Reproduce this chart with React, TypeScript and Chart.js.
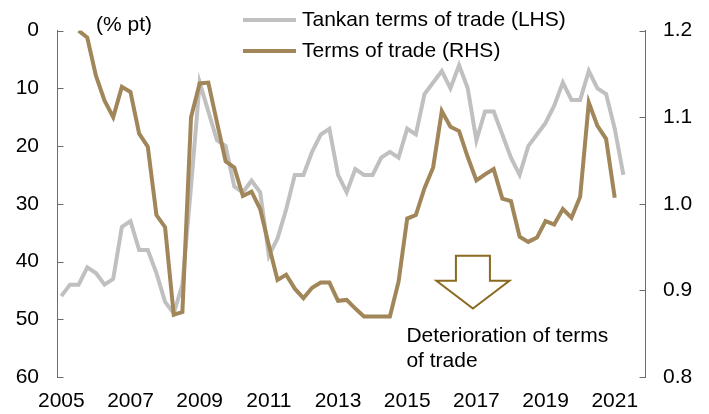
import React, { useEffect, useRef } from 'react';
import { Chart, registerables } from 'chart.js';

Chart.register(...registerables);

// ---- Data (quarterly, starting 2005 Q1) ----
const START_YEAR = 2005;
const QUARTERS_PER_YEAR = 4;

// Tankan terms of trade (LHS, % pt, inverted axis)
const TANKAN_TOT: number[] = [
  46, 44, 44, 41, // 2005
  42, 44, 43, 34, // 2006
  33, 38, 38, 42, // 2007
  47, 49, 44, 27, // 2008
  9, 14, 19, 20, // 2009
  27, 28, 26, 28, // 2010
  39, 36, 31, 25, // 2011
  25, 21, 18, 17, // 2012
  25, 28, 24, 25, // 2013
  25, 22, 21, 22, // 2014
  17, 18, 11, 9, // 2015
  7, 10, 6, 10, // 2016
  19, 14, 14, 18, // 2017
  22, 25, 20, 18, // 2018
  16, 13, 9, 12, // 2019
  12, 7, 10, 11, // 2020
  17, 25, // 2021
];

// Terms of trade (RHS, index)
const TERMS_OF_TRADE: (number | null)[] = [
  null, null, 1.2, 1.192, // 2005
  1.148, 1.119, 1.1, 1.135, // 2006
  1.129, 1.081, 1.066, 0.987, // 2007
  0.973, 0.872, 0.875, 1.1, // 2008
  1.139, 1.14, 1.094, 1.049, // 2009
  1.042, 1.009, 1.014, 0.994, // 2010
  0.952, 0.912, 0.918, 0.902, // 2011
  0.891, 0.903, 0.909, 0.909, // 2012
  0.888, 0.889, 0.879, 0.87, // 2013
  0.87, 0.87, 0.87, 0.91, // 2014
  0.983, 0.987, 1.018, 1.042, // 2015
  1.107, 1.089, 1.084, 1.054, // 2016
  1.027, 1.034, 1.04, 1.006, // 2017
  1.003, 0.962, 0.956, 0.961, // 2018
  0.98, 0.976, 0.994, 0.984, // 2019
  1.008, 1.117, 1.09, 1.075, // 2020
  1.007, // 2021
];

const X_TICK_YEARS = [2005, 2007, 2009, 2011, 2013, 2015, 2017, 2019, 2021];
const LEFT_TICKS = [0, 10, 20, 30, 40, 50, 60];
const RIGHT_TICKS = [0.8, 0.9, 1.0, 1.1, 1.2];

const SERIES_LABELS = ['Tankan terms of trade (LHS)', 'Terms of trade (RHS)'];
const LEFT_UNIT = '(% pt)';
const NOTE_LINES = ['Deterioration of terms', 'of trade'];

// annotation anchors (in data units)
const ARROW_YEAR = 2016.9;
const ARROW_TOP_RHS = 0.94;
const ARROW_TIP_RHS = 0.879;

// ---- Styles ----
const GRAY = '#c0c0c0';
const BROWN = '#a08659';
const ARROW_COLOR = '#8a6a1f';
const AXIS_COLOR = '#6b6b6b';
const FONT_FAMILY = '"Liberation Sans", Arial, sans-serif';
const FONT_SIZE = 21;

const periodOf = (i: number) => START_YEAR + i / QUARTERS_PER_YEAR;

const overlayPlugin = {
  id: 'overlay',
  afterDraw(chart: any) {
    const ctx: CanvasRenderingContext2D = chart.ctx;
    const xS = chart.scales.x;
    const yL = chart.scales.yL;
    const yR = chart.scales.yR;
    ctx.save();

    // inward tick marks
    ctx.strokeStyle = AXIS_COLOR;
    ctx.lineWidth = 1;
    const lx = Math.round(yL.right) + 0.5;
    yL.ticks.forEach((t: any) => {
      const py = Math.round(yL.getPixelForValue(t.value)) + 0.5;
      ctx.beginPath();
      ctx.moveTo(lx - 0.5, py);
      ctx.lineTo(lx + 6, py);
      ctx.stroke();
    });
    const rx = Math.round(yR.left) + 0.5;
    yR.ticks.forEach((t: any) => {
      const py = Math.round(yR.getPixelForValue(t.value)) + 0.5;
      ctx.beginPath();
      ctx.moveTo(rx + 0.5, py);
      ctx.lineTo(rx - 6, py);
      ctx.stroke();
    });

    ctx.font = `${FONT_SIZE}px ${FONT_FAMILY}`;
    ctx.fillStyle = '#000';
    ctx.textBaseline = 'middle';
    ctx.textAlign = 'left';

    // unit label
    ctx.fillText(LEFT_UNIT, 96, 25);

    // legend
    const ds = chart.data.datasets;
    const legendRows = [20, 51];
    ds.forEach((d: any, i: number) => {
      const y = legendRows[i];
      ctx.strokeStyle = d.borderColor;
      ctx.lineWidth = 4;
      ctx.lineCap = 'butt';
      ctx.beginPath();
      ctx.moveTo(243, y);
      ctx.lineTo(296, y);
      ctx.stroke();
      ctx.fillText(d.label, 302, y);
    });

    // arrow
    const cx = xS.getPixelForValue(ARROW_YEAR);
    const top = yR.getPixelForValue(ARROW_TOP_RHS);
    const tip = yR.getPixelForValue(ARROW_TIP_RHS);
    const shoulder = top + 25;
    ctx.strokeStyle = ARROW_COLOR;
    ctx.lineWidth = 2;
    ctx.lineJoin = 'miter';
    ctx.beginPath();
    ctx.moveTo(cx - 17, top);
    ctx.lineTo(cx + 17, top);
    ctx.lineTo(cx + 17, shoulder);
    ctx.lineTo(cx + 36.5, shoulder);
    ctx.lineTo(cx, tip);
    ctx.lineTo(cx - 36.5, shoulder);
    ctx.lineTo(cx - 17, shoulder);
    ctx.closePath();
    ctx.stroke();

    // note text
    ctx.fillStyle = '#000';
    NOTE_LINES.forEach((line, i) => {
      ctx.fillText(line, cx - 66.5, tip + 28 + i * 24.5);
    });

    ctx.restore();
  },
};

export default function App() {
  const canvasRef = useRef<HTMLCanvasElement | null>(null);

  useEffect(() => {
    if (!canvasRef.current) return;
    const tankanPoints = TANKAN_TOT.map((v, i) => ({ x: periodOf(i), y: v }));
    const totPoints = TERMS_OF_TRADE.map((v, i) => ({ x: periodOf(i), y: v }));

    const chart = new Chart(canvasRef.current, {
      type: 'line',
      data: {
        datasets: [
          {
            label: SERIES_LABELS[0],
            data: tankanPoints,
            borderColor: GRAY,
            backgroundColor: GRAY,
            borderWidth: 4,
            pointRadius: 0,
            tension: 0,
            yAxisID: 'yL',
            order: 2,
          },
          {
            label: SERIES_LABELS[1],
            data: totPoints as any,
            borderColor: BROWN,
            backgroundColor: BROWN,
            borderWidth: 4,
            pointRadius: 0,
            tension: 0,
            yAxisID: 'yR',
            order: 1,
            spanGaps: false,
          },
        ],
      },
      options: {
        responsive: false,
        animation: false,
        devicePixelRatio: 1,
        layout: { padding: { top: 30, left: 0, right: 0, bottom: 0 } },
        plugins: {
          legend: { display: false },
          tooltip: { enabled: false },
          title: { display: false },
        },
        scales: {
          x: {
            type: 'linear',
            position: 'bottom',
            min: 2004.875,
            max: 2021.875,
            grid: { display: false, drawTicks: false },
            border: { display: false },
            afterBuildTicks: (scale: any) => {
              scale.ticks = X_TICK_YEARS.map((v) => ({ value: v }));
            },
            afterFit: (scale: any) => {
              scale.height = 37;
            },
            ticks: {
              autoSkip: false,
              maxRotation: 0,
              padding: 12,
              color: '#000',
              font: { family: FONT_FAMILY, size: FONT_SIZE },
              callback: (v: any) => String(v),
            },
          },
          yL: {
            type: 'linear',
            position: 'left',
            reverse: true,
            min: 0,
            max: 60,
            grid: { display: false, drawTicks: false },
            border: { display: true, color: AXIS_COLOR, width: 1 },
            afterBuildTicks: (scale: any) => {
              scale.ticks = LEFT_TICKS.map((v) => ({ value: v }));
            },
            afterFit: (scale: any) => {
              scale.width = 57;
            },
            ticks: {
              padding: 18,
              color: '#000',
              font: { family: FONT_FAMILY, size: FONT_SIZE },
              callback: (v: any) => String(v),
            },
          },
          yR: {
            type: 'linear',
            position: 'right',
            min: 0.8,
            max: 1.2,
            grid: { display: false, drawTicks: false },
            border: { display: true, color: AXIS_COLOR, width: 1 },
            afterBuildTicks: (scale: any) => {
              scale.ticks = RIGHT_TICKS.map((v) => ({ value: v }));
            },
            afterFit: (scale: any) => {
              scale.width = 64;
            },
            ticks: {
              padding: 18,
              color: '#000',
              font: { family: FONT_FAMILY, size: FONT_SIZE },
              callback: (v: any) => Number(v).toFixed(1),
            },
          },
        },
      },
      plugins: [overlayPlugin],
    });
    return () => chart.destroy();
  }, []);

  return (
    <div style={{ position: 'fixed', left: 0, top: 0, width: 709, height: 414, background: '#fff' }}>
      <canvas ref={canvasRef} width={709} height={414} style={{ display: 'block', width: 709, height: 414 }} />
    </div>
  );
}
